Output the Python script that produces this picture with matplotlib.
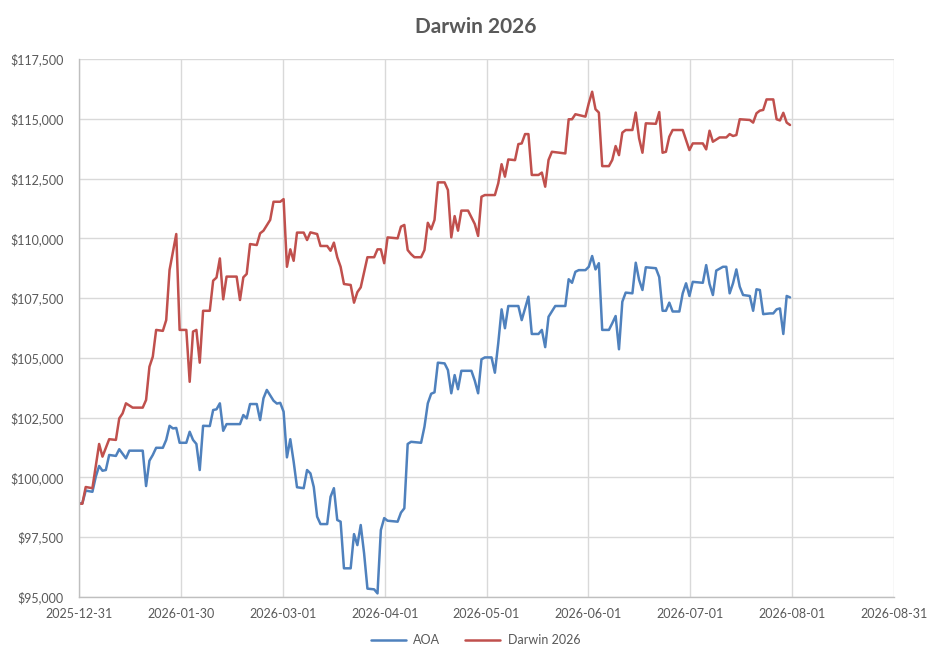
import matplotlib
matplotlib.use("Agg")
import matplotlib.pyplot as plt
import matplotlib.dates as mdates
import matplotlib.ticker as mticker
import pandas as pd

# ---- data (turning points of each series) ----
darwin_dates = [
    "2025-12-31", "2026-01-01", "2026-01-02", "2026-01-04", "2026-01-06", "2026-01-07",
    "2026-01-09", "2026-01-11", "2026-01-12", "2026-01-13", "2026-01-14", "2026-01-16",
    "2026-01-19", "2026-01-20", "2026-01-21", "2026-01-22", "2026-01-23", "2026-01-25",
    "2026-01-26", "2026-01-27", "2026-01-29", "2026-01-30", "2026-02-01", "2026-02-02",
    "2026-02-03", "2026-02-04", "2026-02-05", "2026-02-06", "2026-02-08", "2026-02-09",
    "2026-02-10", "2026-02-11", "2026-02-12", "2026-02-13", "2026-02-16", "2026-02-17",
    "2026-02-18", "2026-02-19", "2026-02-20", "2026-02-22", "2026-02-23", "2026-02-24",
    "2026-02-26", "2026-02-27", "2026-03-01", "2026-03-02", "2026-03-03", "2026-03-04",
    "2026-03-05", "2026-03-06", "2026-03-08", "2026-03-09", "2026-03-10", "2026-03-12",
    "2026-03-13", "2026-03-15", "2026-03-16", "2026-03-17", "2026-03-18", "2026-03-19",
    "2026-03-20", "2026-03-22", "2026-03-23", "2026-03-24", "2026-03-25", "2026-03-27",
    "2026-03-29", "2026-03-30", "2026-03-31", "2026-04-01", "2026-04-02", "2026-04-05",
    "2026-04-06", "2026-04-07", "2026-04-08", "2026-04-09", "2026-04-10", "2026-04-12",
    "2026-04-13", "2026-04-14", "2026-04-15", "2026-04-16", "2026-04-17", "2026-04-19",
    "2026-04-20", "2026-04-21", "2026-04-22", "2026-04-23", "2026-04-24", "2026-04-26",
    "2026-04-27", "2026-04-28", "2026-04-29", "2026-04-30", "2026-05-01", "2026-05-04",
    "2026-05-05", "2026-05-06", "2026-05-07", "2026-05-08", "2026-05-10", "2026-05-11",
    "2026-05-12", "2026-05-13", "2026-05-14", "2026-05-15", "2026-05-17", "2026-05-18",
    "2026-05-19", "2026-05-20", "2026-05-21", "2026-05-25", "2026-05-26", "2026-05-27",
    "2026-05-28", "2026-05-31", "2026-06-01", "2026-06-02", "2026-06-03", "2026-06-04",
    "2026-06-05", "2026-06-07", "2026-06-08", "2026-06-09", "2026-06-10", "2026-06-11",
    "2026-06-12", "2026-06-14", "2026-06-15", "2026-06-16", "2026-06-17", "2026-06-18",
    "2026-06-21", "2026-06-22", "2026-06-23", "2026-06-24", "2026-06-25", "2026-06-26",
    "2026-06-29", "2026-07-01", "2026-07-02", "2026-07-05", "2026-07-06", "2026-07-07",
    "2026-07-08", "2026-07-10", "2026-07-12", "2026-07-13", "2026-07-14", "2026-07-15",
    "2026-07-16", "2026-07-19", "2026-07-20", "2026-07-21", "2026-07-22", "2026-07-23",
    "2026-07-24", "2026-07-26", "2026-07-27", "2026-07-28", "2026-07-29", "2026-07-30",
    "2026-07-31",
]
darwin_values = [
    98900, 98900, 99600, 99550, 101400, 100870,
    101600, 101570, 102470, 102680, 103100, 102920,
    102920, 103240, 104630, 105050, 106170, 106130,
    106580, 108680, 110180, 106170, 106170, 104000,
    106100, 106170, 104800, 106970, 106970, 108230,
    108360, 109160, 107450, 108400, 108400, 107420,
    108370, 108510, 109760, 109720, 110210, 110320,
    110770, 111530, 111530, 111640, 108810, 109540,
    109060, 110240, 110240, 109930, 110250, 110180,
    109680, 109680, 109480, 109820, 109210, 108810,
    108090, 108050, 107310, 107750, 107950, 109210,
    109210, 109540, 109540, 108960, 110040, 110000,
    110490, 110560, 109510, 109340, 109210, 109210,
    109510, 110650, 110380, 110770, 112340, 112340,
    112020, 110040, 110930, 110320, 111160, 111160,
    110880, 110600, 110100, 111740, 111810, 111810,
    112300, 113100, 112580, 113300, 113270, 113940,
    113970, 114360, 114360, 112650, 112650, 112750,
    112160, 113280, 113620, 113550, 114980, 114980,
    115190, 115090, 115650, 116130, 115400, 115260,
    113020, 113020, 113280, 113860, 113480, 114420,
    114530, 114530, 115260, 114180, 113580, 114810,
    114790, 115280, 113580, 113620, 114250, 114530,
    114530, 113690, 113970, 113970, 113720, 114500,
    114040, 114220, 114220, 114360, 114280, 114320,
    114980, 114950, 114840, 115230, 115340, 115370,
    115810, 115810, 114980, 114930, 115250, 114840,
    114740,
]

aoa_dates = [
    "2025-12-31", "2026-01-01", "2026-01-02", "2026-01-04", "2026-01-05", "2026-01-06",
    "2026-01-07", "2026-01-08", "2026-01-09", "2026-01-11", "2026-01-12", "2026-01-14",
    "2026-01-15", "2026-01-19", "2026-01-20", "2026-01-21", "2026-01-22", "2026-01-23",
    "2026-01-25", "2026-01-26", "2026-01-27", "2026-01-28", "2026-01-29", "2026-01-30",
    "2026-02-01", "2026-02-02", "2026-02-03", "2026-02-04", "2026-02-05", "2026-02-06",
    "2026-02-08", "2026-02-09", "2026-02-10", "2026-02-11", "2026-02-12", "2026-02-13",
    "2026-02-17", "2026-02-18", "2026-02-19", "2026-02-20", "2026-02-22", "2026-02-23",
    "2026-02-24", "2026-02-25", "2026-02-27", "2026-02-28", "2026-03-01", "2026-03-02",
    "2026-03-03", "2026-03-04", "2026-03-05", "2026-03-06", "2026-03-08", "2026-03-09",
    "2026-03-10", "2026-03-11", "2026-03-12", "2026-03-13", "2026-03-15", "2026-03-16",
    "2026-03-17", "2026-03-18", "2026-03-19", "2026-03-20", "2026-03-22", "2026-03-23",
    "2026-03-24", "2026-03-25", "2026-03-26", "2026-03-27", "2026-03-29", "2026-03-30",
    "2026-03-31", "2026-04-01", "2026-04-02", "2026-04-05", "2026-04-06", "2026-04-07",
    "2026-04-08", "2026-04-09", "2026-04-12", "2026-04-13", "2026-04-14", "2026-04-15",
    "2026-04-16", "2026-04-17", "2026-04-19", "2026-04-20", "2026-04-21", "2026-04-22",
    "2026-04-23", "2026-04-24", "2026-04-27", "2026-04-28", "2026-04-29", "2026-04-30",
    "2026-05-01", "2026-05-03", "2026-05-04", "2026-05-05", "2026-05-06", "2026-05-07",
    "2026-05-08", "2026-05-11", "2026-05-12", "2026-05-14", "2026-05-15", "2026-05-17",
    "2026-05-18", "2026-05-19", "2026-05-20", "2026-05-22", "2026-05-25", "2026-05-26",
    "2026-05-27", "2026-05-28", "2026-05-29", "2026-05-31", "2026-06-01", "2026-06-02",
    "2026-06-03", "2026-06-04", "2026-06-05", "2026-06-07", "2026-06-08", "2026-06-09",
    "2026-06-10", "2026-06-11", "2026-06-12", "2026-06-14", "2026-06-15", "2026-06-16",
    "2026-06-17", "2026-06-18", "2026-06-21", "2026-06-22", "2026-06-23", "2026-06-24",
    "2026-06-25", "2026-06-26", "2026-06-28", "2026-06-29", "2026-06-30", "2026-07-01",
    "2026-07-02", "2026-07-05", "2026-07-06", "2026-07-07", "2026-07-08", "2026-07-09",
    "2026-07-11", "2026-07-12", "2026-07-13", "2026-07-14", "2026-07-15", "2026-07-16",
    "2026-07-17", "2026-07-19", "2026-07-20", "2026-07-21", "2026-07-22", "2026-07-23",
    "2026-07-25", "2026-07-26", "2026-07-27", "2026-07-28", "2026-07-29", "2026-07-30",
    "2026-07-31",
]
aoa_values = [
    98920, 98920, 99450, 99400, 100030, 100480,
    100280, 100310, 100940, 100900, 101180, 100800,
    101120, 101120, 99640, 100700, 100940, 101240,
    101240, 101570, 102160, 102050, 102070, 101450,
    101450, 101910, 101570, 101400, 100310, 102160,
    102150, 102820, 102850, 103100, 101950, 102230,
    102230, 102610, 102470, 103070, 103070, 102400,
    103310, 103660, 103210, 103090, 103120, 102750,
    100840, 101600, 100660, 99590, 99550, 100310,
    100170, 99600, 98360, 98050, 98050, 99190,
    99550, 98220, 98150, 96200, 96200, 97630,
    97170, 98010, 96830, 95350, 95320, 95150,
    97800, 98300, 98190, 98150, 98530, 98710,
    101400, 101490, 101450, 102120, 103100, 103500,
    103560, 104800, 104770, 104490, 103520, 104280,
    103690, 104460, 104460, 104050, 103520, 104940,
    105020, 105020, 104380, 105610, 107030, 106240,
    107170, 107170, 106580, 107560, 106000, 106000,
    106170, 105450, 106720, 107170, 107170, 108290,
    108140, 108600, 108670, 108670, 108810, 109260,
    108700, 108960, 106170, 106170, 106450, 106750,
    105360, 107350, 107730, 107700, 108980, 108260,
    107840, 108790, 108750, 108380, 106970, 106970,
    107310, 106940, 106940, 107700, 108120, 107590,
    108180, 108140, 108880, 108090, 107630, 108650,
    108810, 108810, 107700, 108120, 108700, 107980,
    107630, 107590, 106970, 107870, 107840, 106830,
    106860, 106860, 107030, 107070, 106000, 107590,
    107530,
]

x_start, x_end = "2025-12-31", "2026-08-31"
x_tick_labels = ["2025-12-31", "2026-01-30", "2026-03-01", "2026-04-01", "2026-05-01",
                 "2026-06-01", "2026-07-01", "2026-08-01", "2026-08-31"]

BLUE = "#4F81BD"
RED = "#C0504D"
GREY_TXT = "#595959"
GRID = "#D9D9D9"

plt.rcParams["font.family"] = ["Lato", "DejaVu Sans"]

fig = plt.figure(figsize=(9.51, 6.57), dpi=100)
ax = fig.add_axes([79 / 951, 60 / 657, 815 / 951, 538 / 657])

ax.plot(pd.to_datetime(aoa_dates), aoa_values, color=BLUE, lw=1.8,
        solid_joinstyle="round", solid_capstyle="round", label="AOA")
ax.plot(pd.to_datetime(darwin_dates), darwin_values, color=RED, lw=1.8,
        solid_joinstyle="round", solid_capstyle="round", label="Darwin 2026")

# Excel spreads the major units evenly over the axis range
x0, x1 = mdates.date2num(pd.Timestamp(x_start)), mdates.date2num(pd.Timestamp(x_end))
n = len(x_tick_labels) - 1
ax.set_xlim(x0, x1)
ax.set_xticks([x0 + (x1 - x0) * i / n for i in range(n + 1)])
ax.set_xticklabels(x_tick_labels)

ax.set_ylim(95000, 117500)
ax.yaxis.set_major_locator(mticker.MultipleLocator(2500))
ax.yaxis.set_major_formatter(mticker.FuncFormatter(lambda v, p: f"${v:,.0f}"))

ax.grid(True, color=GRID, lw=1.0)
ax.set_axisbelow(True)
for s in ["top", "right"]:
    ax.spines[s].set_visible(False)
for s in ["left", "bottom"]:
    ax.spines[s].set_color("#BFBFBF")
    ax.spines[s].set_linewidth(1.0)
ax.tick_params(axis="both", length=0, labelsize=9, labelcolor=GREY_TXT)
ax.tick_params(axis="y", pad=11)
ax.tick_params(axis="x", pad=8)

fig.text(0.5, 1 - 27 / 657, "Darwin 2026", ha="center", va="center",
         fontsize=15, fontweight="bold", color=GREY_TXT)

fig.legend(loc="center", bbox_to_anchor=(0.5, 17 / 657), ncol=2, frameon=False,
           fontsize=9, labelcolor=GREY_TXT, handlelength=2.8, columnspacing=2.0,
           handletextpad=0.6)

fig.savefig("out.png", dpi=100)
